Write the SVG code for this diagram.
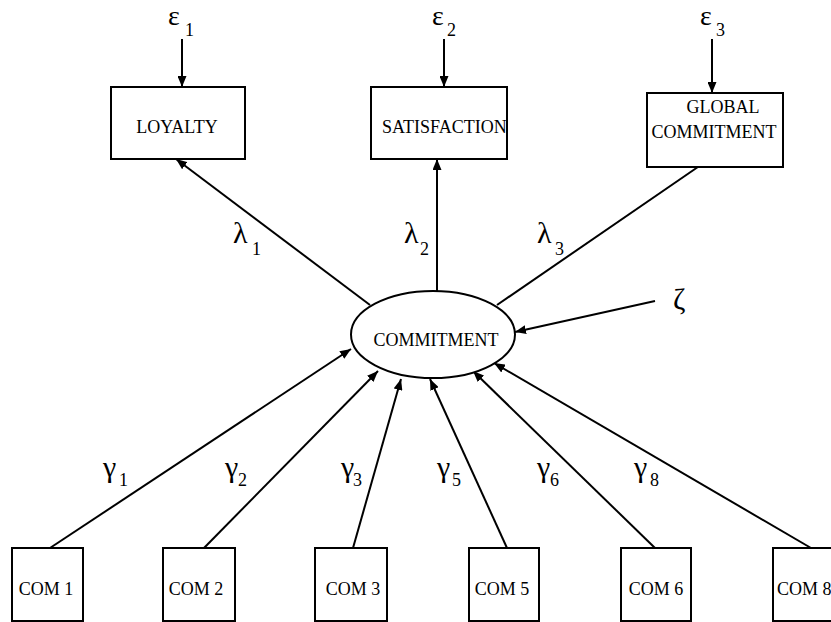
<svg xmlns="http://www.w3.org/2000/svg" width="831" height="622" viewBox="0 0 831 622">
<style>
.box{fill:#fff;stroke:#000;stroke-width:2}
.lbl{font-family:"Liberation Serif","Times New Roman",serif;font-size:18px;fill:#000}
.gk{font-family:"Liberation Serif","Times New Roman",serif;font-size:30px;fill:#000}
.ep{font-family:"Liberation Serif","Times New Roman",serif;font-size:28px;fill:#000}
.sub{font-family:"Liberation Serif","Times New Roman",serif;font-size:18px;fill:#000}
.edge{stroke:#000;stroke-width:2;fill:none;marker-end:url(#ah)}
</style>
<defs>
<marker id="ah" viewBox="0 0 11 9" refX="11" refY="4.5" markerWidth="11" markerHeight="9" markerUnits="userSpaceOnUse" orient="auto">
<path d="M0,0 L11,4.5 L0,9 Z" fill="#000"/>
</marker>
</defs>
<rect width="831" height="622" fill="#fff"/>
<g id="connectors">
<line class="edge" x1="182" y1="39" x2="182" y2="87"/>
<line class="edge" x1="444" y1="39" x2="444" y2="87"/>
<line class="edge" x1="712" y1="39" x2="712" y2="93"/>
<line class="edge" x1="370" y1="305" x2="176" y2="159"/>
<line class="edge" x1="437" y1="291" x2="437" y2="159"/>
<line class="edge" x1="497" y1="305" x2="711" y2="158"/>
<line class="edge" x1="655" y1="301" x2="515" y2="332"/>
<line class="edge" x1="50" y1="548" x2="351" y2="349"/>
<line class="edge" x1="204" y1="548" x2="378" y2="371"/>
<line class="edge" x1="353" y1="548" x2="401" y2="379"/>
<line class="edge" x1="507" y1="548" x2="430" y2="379"/>
<line class="edge" x1="655" y1="548" x2="473" y2="371"/>
<line class="edge" x1="811" y1="548" x2="494" y2="363"/>
</g>
<g id="eps1"><text class="ep" x="168" y="25">ε</text><text class="sub" x="185" y="36">1</text></g>
<g id="eps2"><text class="ep" x="432" y="25">ε</text><text class="sub" x="447" y="36">2</text></g>
<g id="eps3"><text class="ep" x="700" y="25">ε</text><text class="sub" x="716" y="36">3</text></g>
<g id="loyalty"><rect class="box" x="111" y="87" width="134" height="72"/><text class="lbl" x="177" y="133" text-anchor="middle">LOYALTY</text></g>
<g id="satisfaction"><rect class="box" x="371" y="87" width="136" height="72"/><text class="lbl" x="382" y="133">SATISFACTION</text></g>
<g id="global"><rect class="box" x="647" y="93" width="136" height="74"/><text class="lbl" x="723" y="113" text-anchor="middle">GLOBAL</text><text class="lbl" x="714" y="138" text-anchor="middle">COMMITMENT</text></g>
<g id="lam1"><text class="gk" x="233" y="243">λ</text><text class="sub" x="252" y="255">1</text></g>
<g id="lam2"><text class="gk" x="404" y="243">λ</text><text class="sub" x="420" y="255">2</text></g>
<g id="lam3"><text class="gk" x="537" y="243">λ</text><text class="sub" x="555" y="255">3</text></g>
<g id="zeta"><text class="gk" x="673" y="309">ζ</text></g>
<g id="commitment"><ellipse class="box" cx="433" cy="334.5" rx="82" ry="43.5"/><text class="lbl" x="436" y="346" text-anchor="middle">COMMITMENT</text></g>
<g id="gam1"><text class="gk" x="103" y="477">γ</text><text class="sub" x="119" y="486">1</text></g>
<g id="gam2"><text class="gk" x="225" y="477">γ</text><text class="sub" x="238" y="486">2</text></g>
<g id="gam3"><text class="gk" x="341" y="477">γ</text><text class="sub" x="353" y="486">3</text></g>
<g id="gam5"><text class="gk" x="437" y="477">γ</text><text class="sub" x="452" y="486">5</text></g>
<g id="gam6"><text class="gk" x="537" y="477">γ</text><text class="sub" x="550" y="486">6</text></g>
<g id="gam8"><text class="gk" x="634" y="477">γ</text><text class="sub" x="650" y="486">8</text></g>
<g id="com1"><rect class="box" x="12" y="548" width="71" height="73"/><text class="lbl" x="46" y="595" text-anchor="middle">COM 1</text></g>
<g id="com2"><rect class="box" x="163" y="548" width="72" height="73"/><text class="lbl" x="196" y="595" text-anchor="middle">COM 2</text></g>
<g id="com3"><rect class="box" x="315" y="548" width="72" height="73"/><text class="lbl" x="353" y="595" text-anchor="middle">COM 3</text></g>
<g id="com5"><rect class="box" x="469" y="548" width="70" height="73"/><text class="lbl" x="502" y="595" text-anchor="middle">COM 5</text></g>
<g id="com6"><rect class="box" x="621" y="548" width="70" height="73"/><text class="lbl" x="656" y="595" text-anchor="middle">COM 6</text></g>
<g id="com8"><rect class="box" x="773" y="548" width="72" height="73"/><text class="lbl" x="777" y="595">COM 8</text></g>
</svg>
